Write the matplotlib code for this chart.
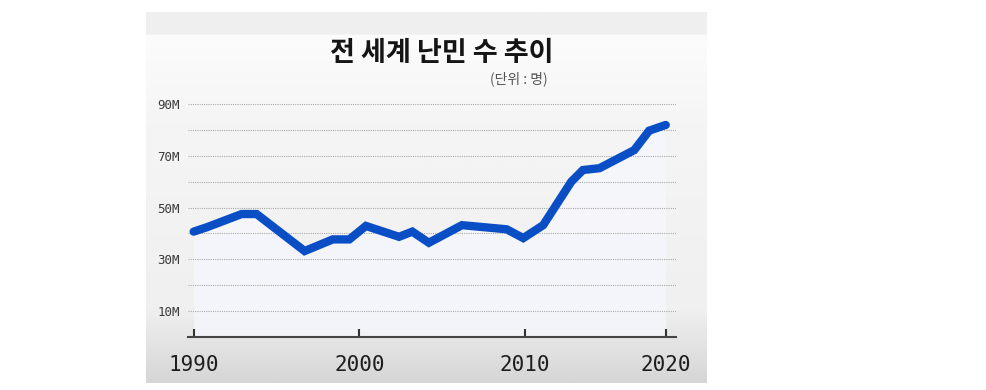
import numpy as np
import matplotlib.pyplot as plt
from matplotlib.colors import LinearSegmentedColormap

# values (x in year units, y in millions)
years = [1990.0, 1990.8, 1992.9, 1993.8, 1996.7, 1998.4, 1999.4, 2000.4, 2002.4, 2003.2,
         2004.2, 2006.2, 2008.9, 2009.9, 2011.1, 2012.8, 2013.5, 2014.5, 2016.6, 2017.5, 2018.5]
refugees = [40.7, 42.4, 47.5, 47.5, 33.2, 37.7, 37.7, 42.9, 38.7, 40.7,
            36.4, 43.2, 41.6, 38.2, 43.2, 60.0, 64.5, 65.2, 72.2, 79.7, 81.9]

tick_pos = [1990, 2000, 2010, 2018.5]
tick_labels = ['1990', '2000', '2010', '2020']
ylabels_at = [10, 30, 50, 70, 90]
title = '전 세계 난민 수 추이'
unit = '(단위 : 명)'

plt.rcParams['font.family'] = ['Noto Sans CJK KR', 'DejaVu Sans']

W, H = 986, 390
fig = plt.figure(figsize=(W / 100, H / 100), dpi=100)
fig.patch.set_facecolor('white')

# paper-like panel behind the chart
bg = fig.add_axes([146 / W, (H - 383) / H, (706 - 146) / W, (383 - 12) / H])
bg.axis('off')
cm = LinearSegmentedColormap.from_list('paper', [(0.0, '#f0f0f0'), (0.058, '#efefef'), (0.06, '#fcfcfc'),
                                                 (0.3, '#f5f5f5'), (0.8, '#f0f0f0'), (1.0, '#d6d6d6')])
grad = np.linspace(0, 1, 400).reshape(-1, 1)
bg.imshow(grad, aspect='auto', cmap=cm, vmin=0, vmax=1, extent=[0, 1, 0, 1])
bg.set_xlim(0, 1)
bg.set_ylim(0, 1)

ax = fig.add_axes([188 / W, (H - 337) / H, (676 - 188) / W, (337 - 104) / H])
ax.set_facecolor('none')
ax.set_xlim(1989.66, 2019.12)
ax.set_ylim(0, 90)

ax.fill_between(years, refugees, 0, color='#f6f7fd', alpha=0.8, lw=0, zorder=0.5)
for v in range(10, 100, 10):
    ax.axhline(v, color='#ababab', lw=0.8, ls=(0, (1, 1)), zorder=1)

ax.plot(years, refugees, color='#0a4ec6', lw=6, solid_joinstyle='miter',
        solid_capstyle='round', zorder=3, clip_on=False)

for s in ['top', 'right', 'left']:
    ax.spines[s].set_visible(False)
ax.spines['bottom'].set_color('#444444')
ax.spines['bottom'].set_linewidth(1.5)

ax.set_xticks(tick_pos)
ax.set_xticklabels(tick_labels, family='DejaVu Sans Mono', fontsize=15, color='#1e1e1e')
ax.tick_params(axis='x', direction='in', length=6, width=1.5, color='#333333', pad=13)

ax.set_yticks(ylabels_at)
ax.set_yticklabels([f'{v}M' for v in ylabels_at], family='DejaVu Sans Mono', fontsize=9, color='#3a3a3a')
ax.tick_params(axis='y', length=0, pad=6)

fig.text(442 / W, (H - 53) / H, title, ha='center', va='center', fontsize=19.5,
         fontweight='bold', color='#151515')
fig.text(548 / W, (H - 79) / H, unit, ha='right', va='center', fontsize=10, color='#555555')

fig.savefig('out.png', dpi=100)
